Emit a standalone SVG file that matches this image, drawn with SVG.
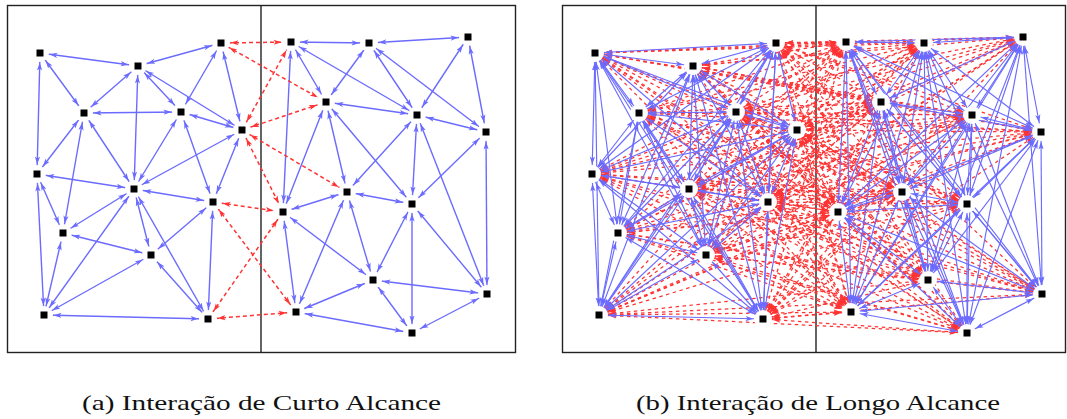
<svg xmlns="http://www.w3.org/2000/svg" width="1067" height="419" viewBox="0 0 1067 419">
<style>
.frame{fill:none;stroke:#222;stroke-width:1.4}
.div{stroke:#222;stroke-width:1.4}
.b path{fill:none;stroke:#6b6bff;stroke-width:1.4;marker-start:url(#ab);marker-end:url(#ab)}
.r path{fill:none;stroke:#ff3333;stroke-width:1.5;stroke-dasharray:4 3;marker-start:url(#ar);marker-end:url(#ar)}
#conn-b .b path{stroke-width:1.15}
#conn-b .r path{stroke-width:1.25;stroke-dasharray:3.5 3.5}
.node rect{fill:#000}
.cap{font-family:"Liberation Serif","DejaVu Serif",serif;font-size:22px;fill:#111}
</style>
<defs>
<marker id="ab" viewBox="0 0 20 6" refX="17.5" refY="3" markerWidth="20" markerHeight="6" markerUnits="userSpaceOnUse" orient="auto-start-reverse"><path d="M0,0.4 L8,3 L0,5.6 L2,3z" fill="#6b6bff"/></marker>
<marker id="ar" viewBox="0 0 20 6" refX="17.5" refY="3" markerWidth="20" markerHeight="6" markerUnits="userSpaceOnUse" orient="auto-start-reverse"><path d="M0,0.4 L8,3 L0,5.6 L2,3z" fill="#ff3333"/></marker>
<g id="holes">
<circle cx="40" cy="53" r="9"/><circle cx="138" cy="66" r="9"/><circle cx="221" cy="43" r="9"/><circle cx="84" cy="113" r="9"/><circle cx="181" cy="112" r="9"/><circle cx="242" cy="130" r="9"/><circle cx="37" cy="174" r="9"/><circle cx="134" cy="189" r="9"/><circle cx="213" cy="202" r="9"/><circle cx="63" cy="233" r="9"/><circle cx="151" cy="255" r="9"/><circle cx="44" cy="315" r="9"/><circle cx="208" cy="319" r="9"/>
<circle cx="291" cy="42" r="9"/><circle cx="369" cy="43" r="9"/><circle cx="468" cy="37" r="9"/><circle cx="326" cy="102" r="9"/><circle cx="417" cy="115" r="9"/><circle cx="486" cy="132" r="9"/><circle cx="347" cy="192" r="9"/><circle cx="412" cy="204" r="9"/><circle cx="283" cy="212" r="9"/><circle cx="373" cy="280" r="9"/><circle cx="487" cy="294" r="9"/><circle cx="296" cy="312" r="9"/><circle cx="412" cy="333" r="9"/>
</g>
<mask id="m" maskUnits="userSpaceOnUse" x="-600" y="0" width="1700" height="419">
<rect x="-600" y="0" width="1700" height="419" fill="#fff"/>
<use href="#holes" fill="#000"/>
</mask>
</defs>
<rect width="1067" height="419" fill="#fff"/>
<rect class="frame" x="7.5" y="5.5" width="508" height="347"/>
<line class="div" x1="261" y1="5" x2="261" y2="353"/>
<rect class="frame" x="562.5" y="5.5" width="503" height="347"/>
<line class="div" x1="816" y1="5" x2="816" y2="353"/>
<g id="connectors">
<g id="conn-a" mask="url(#m)">
<g class="b">
<path d="M40 53L138 66"/><path d="M40 53L84 113"/><path d="M40 53L37 174"/><path d="M138 66L221 43"/><path d="M138 66L84 113"/><path d="M138 66L181 112"/><path d="M138 66L242 130"/><path d="M138 66L134 189"/><path d="M221 43L181 112"/><path d="M221 43L242 130"/><path d="M84 113L181 112"/><path d="M84 113L37 174"/><path d="M84 113L134 189"/><path d="M84 113L63 233"/><path d="M181 112L242 130"/><path d="M181 112L134 189"/><path d="M181 112L213 202"/><path d="M242 130L134 189"/><path d="M242 130L213 202"/><path d="M37 174L134 189"/><path d="M37 174L63 233"/><path d="M37 174L44 315"/><path d="M134 189L213 202"/><path d="M134 189L63 233"/><path d="M134 189L151 255"/><path d="M134 189L44 315"/><path d="M134 189L208 319"/><path d="M213 202L151 255"/><path d="M213 202L208 319"/><path d="M63 233L151 255"/><path d="M63 233L44 315"/><path d="M151 255L44 315"/><path d="M151 255L208 319"/><path d="M44 315L208 319"/>
<path d="M291 42L369 43"/><path d="M291 42L326 102"/><path d="M291 42L417 115"/><path d="M291 42L283 212"/><path d="M369 43L468 37"/><path d="M369 43L326 102"/><path d="M369 43L417 115"/><path d="M369 43L486 132"/><path d="M468 37L417 115"/><path d="M468 37L486 132"/><path d="M326 102L417 115"/><path d="M326 102L347 192"/><path d="M326 102L412 204"/><path d="M326 102L283 212"/><path d="M417 115L486 132"/><path d="M417 115L347 192"/><path d="M417 115L412 204"/><path d="M417 115L487 294"/><path d="M486 132L412 204"/><path d="M486 132L487 294"/><path d="M347 192L412 204"/><path d="M347 192L283 212"/><path d="M347 192L373 280"/><path d="M347 192L296 312"/><path d="M412 204L373 280"/><path d="M412 204L487 294"/><path d="M412 204L412 333"/><path d="M283 212L373 280"/><path d="M283 212L296 312"/><path d="M373 280L487 294"/><path d="M373 280L296 312"/><path d="M373 280L412 333"/><path d="M487 294L412 333"/><path d="M296 312L412 333"/>
</g>
<g class="r">
<path d="M221 43L291 42"/><path d="M221 43L326 102"/><path d="M242 130L291 42"/><path d="M242 130L326 102"/><path d="M242 130L347 192"/><path d="M242 130L283 212"/><path d="M213 202L283 212"/><path d="M213 202L296 312"/><path d="M208 319L283 212"/><path d="M208 319L296 312"/>
</g>
</g>
<g id="conn-b" transform="translate(555,0)" mask="url(#m)">
<g class="r">
<path d="M40 53L291 42"/><path d="M40 53L369 43"/><path d="M40 53L468 37"/><path d="M40 53L326 102"/><path d="M40 53L417 115"/><path d="M40 53L486 132"/><path d="M40 53L347 192"/><path d="M40 53L412 204"/><path d="M40 53L283 212"/><path d="M40 53L373 280"/><path d="M40 53L487 294"/><path d="M40 53L296 312"/><path d="M40 53L412 333"/>
<path d="M138 66L291 42"/><path d="M138 66L369 43"/><path d="M138 66L468 37"/><path d="M138 66L326 102"/><path d="M138 66L417 115"/><path d="M138 66L486 132"/><path d="M138 66L347 192"/><path d="M138 66L412 204"/><path d="M138 66L283 212"/><path d="M138 66L373 280"/><path d="M138 66L487 294"/><path d="M138 66L296 312"/><path d="M138 66L412 333"/>
<path d="M221 43L291 42"/><path d="M221 43L369 43"/><path d="M221 43L468 37"/><path d="M221 43L326 102"/><path d="M221 43L417 115"/><path d="M221 43L486 132"/><path d="M221 43L347 192"/><path d="M221 43L412 204"/><path d="M221 43L283 212"/><path d="M221 43L373 280"/><path d="M221 43L487 294"/><path d="M221 43L296 312"/><path d="M221 43L412 333"/>
<path d="M84 113L291 42"/><path d="M84 113L369 43"/><path d="M84 113L468 37"/><path d="M84 113L326 102"/><path d="M84 113L417 115"/><path d="M84 113L486 132"/><path d="M84 113L347 192"/><path d="M84 113L412 204"/><path d="M84 113L283 212"/><path d="M84 113L373 280"/><path d="M84 113L487 294"/><path d="M84 113L296 312"/><path d="M84 113L412 333"/>
<path d="M181 112L291 42"/><path d="M181 112L369 43"/><path d="M181 112L468 37"/><path d="M181 112L326 102"/><path d="M181 112L417 115"/><path d="M181 112L486 132"/><path d="M181 112L347 192"/><path d="M181 112L412 204"/><path d="M181 112L283 212"/><path d="M181 112L373 280"/><path d="M181 112L487 294"/><path d="M181 112L296 312"/><path d="M181 112L412 333"/>
<path d="M242 130L291 42"/><path d="M242 130L369 43"/><path d="M242 130L468 37"/><path d="M242 130L326 102"/><path d="M242 130L417 115"/><path d="M242 130L486 132"/><path d="M242 130L347 192"/><path d="M242 130L412 204"/><path d="M242 130L283 212"/><path d="M242 130L373 280"/><path d="M242 130L487 294"/><path d="M242 130L296 312"/><path d="M242 130L412 333"/>
<path d="M37 174L291 42"/><path d="M37 174L369 43"/><path d="M37 174L468 37"/><path d="M37 174L326 102"/><path d="M37 174L417 115"/><path d="M37 174L486 132"/><path d="M37 174L347 192"/><path d="M37 174L412 204"/><path d="M37 174L283 212"/><path d="M37 174L373 280"/><path d="M37 174L487 294"/><path d="M37 174L296 312"/><path d="M37 174L412 333"/>
<path d="M134 189L291 42"/><path d="M134 189L369 43"/><path d="M134 189L468 37"/><path d="M134 189L326 102"/><path d="M134 189L417 115"/><path d="M134 189L486 132"/><path d="M134 189L347 192"/><path d="M134 189L412 204"/><path d="M134 189L283 212"/><path d="M134 189L373 280"/><path d="M134 189L487 294"/><path d="M134 189L296 312"/><path d="M134 189L412 333"/>
<path d="M213 202L291 42"/><path d="M213 202L369 43"/><path d="M213 202L468 37"/><path d="M213 202L326 102"/><path d="M213 202L417 115"/><path d="M213 202L486 132"/><path d="M213 202L347 192"/><path d="M213 202L412 204"/><path d="M213 202L283 212"/><path d="M213 202L373 280"/><path d="M213 202L487 294"/><path d="M213 202L296 312"/><path d="M213 202L412 333"/>
<path d="M63 233L291 42"/><path d="M63 233L369 43"/><path d="M63 233L468 37"/><path d="M63 233L326 102"/><path d="M63 233L417 115"/><path d="M63 233L486 132"/><path d="M63 233L347 192"/><path d="M63 233L412 204"/><path d="M63 233L283 212"/><path d="M63 233L373 280"/><path d="M63 233L487 294"/><path d="M63 233L296 312"/><path d="M63 233L412 333"/>
<path d="M151 255L291 42"/><path d="M151 255L369 43"/><path d="M151 255L468 37"/><path d="M151 255L326 102"/><path d="M151 255L417 115"/><path d="M151 255L486 132"/><path d="M151 255L347 192"/><path d="M151 255L412 204"/><path d="M151 255L283 212"/><path d="M151 255L373 280"/><path d="M151 255L487 294"/><path d="M151 255L296 312"/><path d="M151 255L412 333"/>
<path d="M44 315L291 42"/><path d="M44 315L369 43"/><path d="M44 315L468 37"/><path d="M44 315L326 102"/><path d="M44 315L417 115"/><path d="M44 315L486 132"/><path d="M44 315L347 192"/><path d="M44 315L412 204"/><path d="M44 315L283 212"/><path d="M44 315L373 280"/><path d="M44 315L487 294"/><path d="M44 315L296 312"/><path d="M44 315L412 333"/>
<path d="M208 319L291 42"/><path d="M208 319L369 43"/><path d="M208 319L468 37"/><path d="M208 319L326 102"/><path d="M208 319L417 115"/><path d="M208 319L486 132"/><path d="M208 319L347 192"/><path d="M208 319L412 204"/><path d="M208 319L283 212"/><path d="M208 319L373 280"/><path d="M208 319L487 294"/><path d="M208 319L296 312"/><path d="M208 319L412 333"/>
</g>
<g class="b">
<path d="M40 53L138 66"/><path d="M40 53L221 43"/><path d="M40 53L84 113"/><path d="M40 53L181 112"/><path d="M40 53L242 130"/><path d="M40 53L37 174"/><path d="M40 53L134 189"/><path d="M40 53L213 202"/><path d="M40 53L63 233"/><path d="M40 53L151 255"/><path d="M40 53L44 315"/><path d="M40 53L208 319"/>
<path d="M138 66L221 43"/><path d="M138 66L84 113"/><path d="M138 66L181 112"/><path d="M138 66L242 130"/><path d="M138 66L37 174"/><path d="M138 66L134 189"/><path d="M138 66L213 202"/><path d="M138 66L63 233"/><path d="M138 66L151 255"/><path d="M138 66L44 315"/><path d="M138 66L208 319"/>
<path d="M221 43L84 113"/><path d="M221 43L181 112"/><path d="M221 43L242 130"/><path d="M221 43L37 174"/><path d="M221 43L134 189"/><path d="M221 43L213 202"/><path d="M221 43L63 233"/><path d="M221 43L151 255"/><path d="M221 43L44 315"/><path d="M221 43L208 319"/>
<path d="M84 113L181 112"/><path d="M84 113L242 130"/><path d="M84 113L37 174"/><path d="M84 113L134 189"/><path d="M84 113L213 202"/><path d="M84 113L63 233"/><path d="M84 113L151 255"/><path d="M84 113L44 315"/><path d="M84 113L208 319"/>
<path d="M181 112L242 130"/><path d="M181 112L37 174"/><path d="M181 112L134 189"/><path d="M181 112L213 202"/><path d="M181 112L63 233"/><path d="M181 112L151 255"/><path d="M181 112L44 315"/><path d="M181 112L208 319"/>
<path d="M242 130L37 174"/><path d="M242 130L134 189"/><path d="M242 130L213 202"/><path d="M242 130L63 233"/><path d="M242 130L151 255"/><path d="M242 130L44 315"/><path d="M242 130L208 319"/>
<path d="M37 174L134 189"/><path d="M37 174L213 202"/><path d="M37 174L63 233"/><path d="M37 174L151 255"/><path d="M37 174L44 315"/><path d="M37 174L208 319"/>
<path d="M134 189L213 202"/><path d="M134 189L63 233"/><path d="M134 189L151 255"/><path d="M134 189L44 315"/><path d="M134 189L208 319"/>
<path d="M213 202L63 233"/><path d="M213 202L151 255"/><path d="M213 202L44 315"/><path d="M213 202L208 319"/>
<path d="M63 233L151 255"/><path d="M63 233L44 315"/><path d="M63 233L208 319"/>
<path d="M151 255L44 315"/><path d="M151 255L208 319"/><path d="M44 315L208 319"/>
<path d="M291 42L369 43"/><path d="M291 42L468 37"/><path d="M291 42L326 102"/><path d="M291 42L417 115"/><path d="M291 42L486 132"/><path d="M291 42L347 192"/><path d="M291 42L412 204"/><path d="M291 42L283 212"/><path d="M291 42L373 280"/><path d="M291 42L487 294"/><path d="M291 42L296 312"/><path d="M291 42L412 333"/>
<path d="M369 43L468 37"/><path d="M369 43L326 102"/><path d="M369 43L417 115"/><path d="M369 43L486 132"/><path d="M369 43L347 192"/><path d="M369 43L412 204"/><path d="M369 43L283 212"/><path d="M369 43L373 280"/><path d="M369 43L487 294"/><path d="M369 43L296 312"/><path d="M369 43L412 333"/>
<path d="M468 37L326 102"/><path d="M468 37L417 115"/><path d="M468 37L486 132"/><path d="M468 37L347 192"/><path d="M468 37L412 204"/><path d="M468 37L283 212"/><path d="M468 37L373 280"/><path d="M468 37L487 294"/><path d="M468 37L296 312"/><path d="M468 37L412 333"/>
<path d="M326 102L417 115"/><path d="M326 102L486 132"/><path d="M326 102L347 192"/><path d="M326 102L412 204"/><path d="M326 102L283 212"/><path d="M326 102L373 280"/><path d="M326 102L487 294"/><path d="M326 102L296 312"/><path d="M326 102L412 333"/>
<path d="M417 115L486 132"/><path d="M417 115L347 192"/><path d="M417 115L412 204"/><path d="M417 115L283 212"/><path d="M417 115L373 280"/><path d="M417 115L487 294"/><path d="M417 115L296 312"/><path d="M417 115L412 333"/>
<path d="M486 132L347 192"/><path d="M486 132L412 204"/><path d="M486 132L283 212"/><path d="M486 132L373 280"/><path d="M486 132L487 294"/><path d="M486 132L296 312"/><path d="M486 132L412 333"/>
<path d="M347 192L412 204"/><path d="M347 192L283 212"/><path d="M347 192L373 280"/><path d="M347 192L487 294"/><path d="M347 192L296 312"/><path d="M347 192L412 333"/>
<path d="M412 204L283 212"/><path d="M412 204L373 280"/><path d="M412 204L487 294"/><path d="M412 204L296 312"/><path d="M412 204L412 333"/>
<path d="M283 212L373 280"/><path d="M283 212L487 294"/><path d="M283 212L296 312"/><path d="M283 212L412 333"/>
<path d="M373 280L487 294"/><path d="M373 280L296 312"/><path d="M373 280L412 333"/>
<path d="M487 294L296 312"/><path d="M487 294L412 333"/><path d="M296 312L412 333"/>
</g>
</g>
</g>
<g id="nodes-a" class="node">
<g id="a1"><rect x="36.5" y="49.5" width="7" height="7"/></g>
<g id="a2"><rect x="134.5" y="62.5" width="7" height="7"/></g>
<g id="a3"><rect x="217.5" y="39.5" width="7" height="7"/></g>
<g id="a4"><rect x="80.5" y="109.5" width="7" height="7"/></g>
<g id="a5"><rect x="177.5" y="108.5" width="7" height="7"/></g>
<g id="a6"><rect x="238.5" y="126.5" width="7" height="7"/></g>
<g id="a7"><rect x="33.5" y="170.5" width="7" height="7"/></g>
<g id="a8"><rect x="130.5" y="185.5" width="7" height="7"/></g>
<g id="a9"><rect x="209.5" y="198.5" width="7" height="7"/></g>
<g id="a10"><rect x="59.5" y="229.5" width="7" height="7"/></g>
<g id="a11"><rect x="147.5" y="251.5" width="7" height="7"/></g>
<g id="a12"><rect x="40.5" y="311.5" width="7" height="7"/></g>
<g id="a13"><rect x="204.5" y="315.5" width="7" height="7"/></g>
<g id="a14"><rect x="287.5" y="38.5" width="7" height="7"/></g>
<g id="a15"><rect x="365.5" y="39.5" width="7" height="7"/></g>
<g id="a16"><rect x="464.5" y="33.5" width="7" height="7"/></g>
<g id="a17"><rect x="322.5" y="98.5" width="7" height="7"/></g>
<g id="a18"><rect x="413.5" y="111.5" width="7" height="7"/></g>
<g id="a19"><rect x="482.5" y="128.5" width="7" height="7"/></g>
<g id="a20"><rect x="343.5" y="188.5" width="7" height="7"/></g>
<g id="a21"><rect x="408.5" y="200.5" width="7" height="7"/></g>
<g id="a22"><rect x="279.5" y="208.5" width="7" height="7"/></g>
<g id="a23"><rect x="369.5" y="276.5" width="7" height="7"/></g>
<g id="a24"><rect x="483.5" y="290.5" width="7" height="7"/></g>
<g id="a25"><rect x="292.5" y="308.5" width="7" height="7"/></g>
<g id="a26"><rect x="408.5" y="329.5" width="7" height="7"/></g>
</g>
<g id="nodes-b" class="node" transform="translate(555,0)">
<g id="b1"><rect x="36.5" y="49.5" width="7" height="7"/></g>
<g id="b2"><rect x="134.5" y="62.5" width="7" height="7"/></g>
<g id="b3"><rect x="217.5" y="39.5" width="7" height="7"/></g>
<g id="b4"><rect x="80.5" y="109.5" width="7" height="7"/></g>
<g id="b5"><rect x="177.5" y="108.5" width="7" height="7"/></g>
<g id="b6"><rect x="238.5" y="126.5" width="7" height="7"/></g>
<g id="b7"><rect x="33.5" y="170.5" width="7" height="7"/></g>
<g id="b8"><rect x="130.5" y="185.5" width="7" height="7"/></g>
<g id="b9"><rect x="209.5" y="198.5" width="7" height="7"/></g>
<g id="b10"><rect x="59.5" y="229.5" width="7" height="7"/></g>
<g id="b11"><rect x="147.5" y="251.5" width="7" height="7"/></g>
<g id="b12"><rect x="40.5" y="311.5" width="7" height="7"/></g>
<g id="b13"><rect x="204.5" y="315.5" width="7" height="7"/></g>
<g id="b14"><rect x="287.5" y="38.5" width="7" height="7"/></g>
<g id="b15"><rect x="365.5" y="39.5" width="7" height="7"/></g>
<g id="b16"><rect x="464.5" y="33.5" width="7" height="7"/></g>
<g id="b17"><rect x="322.5" y="98.5" width="7" height="7"/></g>
<g id="b18"><rect x="413.5" y="111.5" width="7" height="7"/></g>
<g id="b19"><rect x="482.5" y="128.5" width="7" height="7"/></g>
<g id="b20"><rect x="343.5" y="188.5" width="7" height="7"/></g>
<g id="b21"><rect x="408.5" y="200.5" width="7" height="7"/></g>
<g id="b22"><rect x="279.5" y="208.5" width="7" height="7"/></g>
<g id="b23"><rect x="369.5" y="276.5" width="7" height="7"/></g>
<g id="b24"><rect x="483.5" y="290.5" width="7" height="7"/></g>
<g id="b25"><rect x="292.5" y="308.5" width="7" height="7"/></g>
<g id="b26"><rect x="408.5" y="329.5" width="7" height="7"/></g>
</g>
<text class="cap" x="82" y="410" textLength="359" lengthAdjust="spacingAndGlyphs">(a) Interação de Curto Alcance</text>
<text class="cap" x="636" y="410" textLength="364" lengthAdjust="spacingAndGlyphs">(b) Interação de Longo Alcance</text>
</svg>
